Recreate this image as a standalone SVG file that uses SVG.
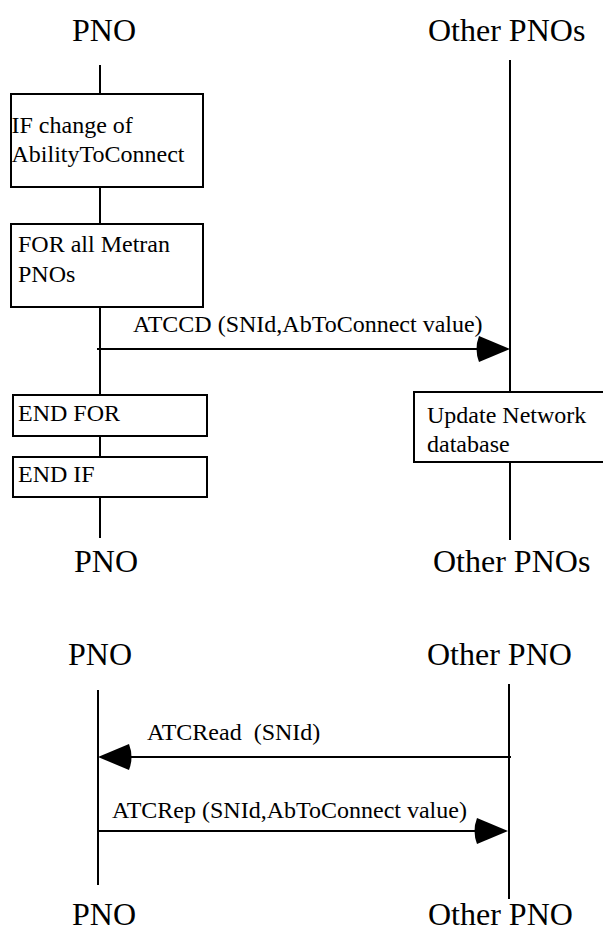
<svg xmlns="http://www.w3.org/2000/svg" width="603" height="932" viewBox="0 0 603 932">
<style>
text{font-family:'Liberation Serif','Times New Roman',Times,serif;fill:#000}
.title{font-size:32px}
.t{font-size:24px}
.m{font-size:24px}
.box{fill:#fff;stroke:#000;stroke-width:2}
.ln{stroke:#000;stroke-width:2;fill:none}
.ah{fill:#000;stroke:none}
</style>
<rect width="603" height="932" fill="#fff"/>
<g id="connectors">
  <line class="ln" x1="100" y1="65" x2="100" y2="94"/>
  <line class="ln" x1="100" y1="187" x2="100" y2="224"/>
  <line class="ln" x1="100" y1="307" x2="100" y2="395"/>
  <line class="ln" x1="100" y1="436" x2="100" y2="457"/>
  <line class="ln" x1="100" y1="497" x2="100" y2="538"/>
  <line class="ln" x1="510" y1="60" x2="510" y2="392"/>
  <line class="ln" x1="510" y1="462" x2="510" y2="540"/>
  <line class="ln" x1="97" y1="349" x2="480" y2="349"/>
  <path class="ah" d="M510,349 L479,336 Q474,349 479,362 Z"/>
  <text class="m" x="133" y="332">ATCCD (SNId,AbToConnect value)</text>
  <line class="ln" x1="98" y1="690" x2="98" y2="885"/>
  <line class="ln" x1="509" y1="684" x2="509" y2="899"/>
  <line class="ln" x1="128" y1="757" x2="511" y2="757"/>
  <path class="ah" d="M98,757 L129,744 Q134,757 129,770 Z"/>
  <text class="m" x="147" y="740" xml:space="preserve">ATCRead  (SNId)</text>
  <line class="ln" x1="98" y1="831" x2="480" y2="831"/>
  <path class="ah" d="M508,831 L477,818 Q472,831 477,844 Z"/>
  <text class="m" x="112" y="818">ATCRep (SNId,AbToConnect value)</text>
</g>
<g id="pno-top"><text class="title" x="72" y="41">PNO</text></g>
<g id="other-pnos-top"><text class="title" x="428" y="41">Other PNOs</text></g>
<g id="if-box">
  <rect class="box" x="11" y="94" width="192" height="93"/>
  <text class="t" x="11.5" y="133">IF change of</text>
  <text class="t" x="11.5" y="162">AbilityToConnect</text>
</g>
<g id="for-box">
  <rect class="box" x="11" y="224" width="192" height="83"/>
  <text class="t" x="18" y="252">FOR all Metran</text>
  <text class="t" x="18" y="282">PNOs</text>
</g>
<g id="endfor-box">
  <rect class="box" x="13" y="395" width="194" height="41"/>
  <text class="t" x="18" y="421">END FOR</text>
</g>
<g id="endif-box">
  <rect class="box" x="13" y="457" width="194" height="40"/>
  <text class="t" x="18" y="482">END IF</text>
</g>
<g id="update-box">
  <rect class="box" x="414" y="392" width="192" height="70"/>
  <text class="t" x="427" y="423">Update Network</text>
  <text class="t" x="427" y="452">database</text>
</g>
<g id="pno-bottom1"><text class="title" x="74" y="572">PNO</text></g>
<g id="other-pnos-bottom"><text class="title" x="433" y="572">Other PNOs</text></g>
<g id="pno-top2"><text class="title" x="68" y="665">PNO</text></g>
<g id="other-pno-top2"><text class="title" x="427" y="665">Other PNO</text></g>
<g id="pno-bottom2"><text class="title" x="72" y="925">PNO</text></g>
<g id="other-pno-bottom2"><text class="title" x="428" y="925">Other PNO</text></g>
</svg>
